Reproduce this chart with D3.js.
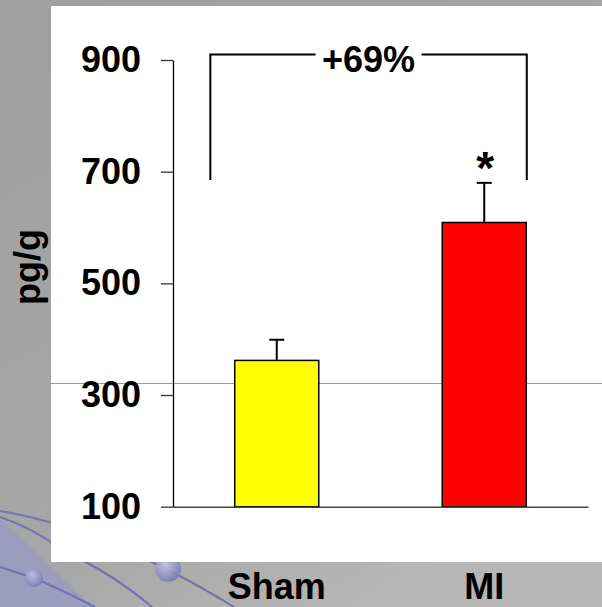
<!DOCTYPE html>
<html>
<head>
<meta charset="utf-8">
<script src="https://cdn.jsdelivr.net/npm/d3@7"></script>
<style>
  html, body { margin: 0; padding: 0; background: #a4a4a4; }
  svg { display: block; }
  text { font-family: "Liberation Sans", Arial, Helvetica, sans-serif; font-weight: bold; fill: #000; }
</style>
</head>
<body>
<script>
// Group labels and measured means (pg/g) with their standard errors
const categories = ["Sham", "MI"];
const means = [362, 609];
const errors = [37, 71];
const barColors = ["#ffff00", "#ff0000"];
const yTicks = [100, 300, 500, 700, 900];
const yLabel = "pg/g";
const changeLabel = "+69%";
const significance = ["", "*"];

const W = 602, H = 607;
const svg = d3.select("body").append("svg").attr("width", W).attr("height", H);
const defs = svg.append("defs");

// slide background
const bg = defs.append("linearGradient").attr("id", "bg")
  .attr("x1", 0).attr("y1", 0).attr("x2", 0.6).attr("y2", 1);
bg.append("stop").attr("offset", 0).attr("stop-color", "#a0a0a0");
bg.append("stop").attr("offset", 0.7).attr("stop-color", "#a6a6a6");
bg.append("stop").attr("offset", 1).attr("stop-color", "#b6b6b6");
svg.append("rect").attr("width", W).attr("height", H).attr("fill", "url(#bg)");

const orb = defs.append("radialGradient").attr("id", "orb")
  .attr("cx", 0.4).attr("cy", 0.35).attr("r", 0.7);
orb.append("stop").attr("offset", 0).attr("stop-color", "#c4c4e4");
orb.append("stop").attr("offset", 1).attr("stop-color", "#7474ac");

// decorative swoosh in the lower-left corner
const deco = svg.append("g");
deco.append("path").attr("d", "M0,517 L92,607 L0,607 Z").attr("fill", "#9c9cbe");
const swooshes = [
  "M0,511 Q25,515 60,525",
  "M0,517 Q30,527 60,548",
  "M0,567 L34,578 Q62,590 95,607",
  "M78,558 Q118,578 152,607",
  "M148,560 L168,570 Q200,586 234,607"
];
deco.selectAll("path.sw").data(swooshes).join("path").attr("class", "sw")
  .attr("d", d => d).attr("fill", "none").attr("stroke", "#7272b0").attr("stroke-width", 2);
deco.selectAll("circle").data([[34, 578, 9], [168, 569, 13]]).join("circle")
  .attr("cx", d => d[0]).attr("cy", d => d[1]).attr("r", d => d[2])
  .attr("fill", "url(#orb)").attr("opacity", 0.9);

// white chart panel
svg.append("rect").attr("x", 51).attr("y", 6).attr("width", W - 51).attr("height", 556)
  .attr("fill", "#ffffff");

// thin slide rule across the panel
svg.append("line").attr("x1", 51).attr("x2", W).attr("y1", 383.5).attr("y2", 383.5)
  .attr("stroke", "#9a9a9a").attr("stroke-width", 1);

const x = d3.scaleBand().domain(categories).range([173, 588]).padding(0);
const y = d3.scaleLinear().domain([100, 900]).range([506.7, 60]);
const barW = x.bandwidth() * 0.405;

// y axis
const yAxis = svg.append("g").attr("transform", "translate(173,0)")
  .call(d3.axisLeft(y).tickValues(yTicks).tickSize(12).tickSizeOuter(0).tickPadding(20).tickFormat(d3.format("d")));
yAxis.select(".domain").attr("stroke", "#000").attr("stroke-width", 1.3);
yAxis.selectAll(".tick line").attr("stroke", "#333").attr("stroke-width", 1.3);
yAxis.selectAll(".tick text").attr("font-size", 36).attr("font-family", null).attr("fill", "#000");

// y axis title
svg.append("text").attr("transform", "translate(40,267) rotate(-90)")
  .attr("text-anchor", "middle").attr("font-size", 36).text(yLabel);

// bars
const groups = categories.map((c, i) => ({ c, m: means[i], e: errors[i], color: barColors[i], sig: significance[i] }));
svg.selectAll("rect.bar").data(groups).join("rect").attr("class", "bar")
  .attr("x", d => x(d.c) + (x.bandwidth() - barW) / 2)
  .attr("y", d => y(d.m))
  .attr("width", barW)
  .attr("height", d => y(100) - y(d.m))
  .attr("fill", d => d.color)
  .attr("stroke", "#000").attr("stroke-width", 1.5);

// error bars (upper only)
const eb = svg.selectAll("g.err").data(groups).join("g").attr("class", "err");
eb.append("line")
  .attr("x1", d => x(d.c) + x.bandwidth() / 2).attr("x2", d => x(d.c) + x.bandwidth() / 2)
  .attr("y1", d => y(d.m)).attr("y2", d => y(d.m + d.e))
  .attr("stroke", "#000").attr("stroke-width", 2);
eb.append("line")
  .attr("x1", d => x(d.c) + x.bandwidth() / 2 - 7.5).attr("x2", d => x(d.c) + x.bandwidth() / 2 + 7.5)
  .attr("y1", d => y(d.m + d.e)).attr("y2", d => y(d.m + d.e))
  .attr("stroke", "#000").attr("stroke-width", 2);

// significance marker
svg.selectAll("text.sig").data(groups).join("text").attr("class", "sig")
  .attr("x", d => x(d.c) + x.bandwidth() / 2 + 1)
  .attr("y", d => y(d.m + d.e) + 1)
  .attr("text-anchor", "middle").attr("font-size", 46).text(d => d.sig);

// x axis
const xAxis = svg.append("g").attr("transform", `translate(0,${y(100)})`)
  .call(d3.axisBottom(x).tickSize(0).tickSizeOuter(0).tickPadding(67));
xAxis.select(".domain").attr("stroke", "#444").attr("stroke-width", 1.5);
xAxis.selectAll(".tick text").attr("font-size", 36).attr("font-family", null).attr("fill", "#000");

// comparison bracket
const bx1 = x(categories[0]) + x.bandwidth() * 0.18;
const bx2 = x(categories[1]) + x.bandwidth() * 0.705;
const byTop = y(910), byEnd = y(685);
const bmid = (bx1 + bx2) / 2;
const gapHalf = 53;
svg.append("path")
  .attr("d", `M${bx1},${byEnd} V${byTop} H${bmid - gapHalf} M${bmid + gapHalf},${byTop} H${bx2} V${byEnd}`)
  .attr("fill", "none").attr("stroke", "#000").attr("stroke-width", 2);
svg.append("text").attr("x", bmid).attr("y", 72.3).attr("text-anchor", "middle")
  .attr("font-size", 36).text(changeLabel);
</script>
</body>
</html>
